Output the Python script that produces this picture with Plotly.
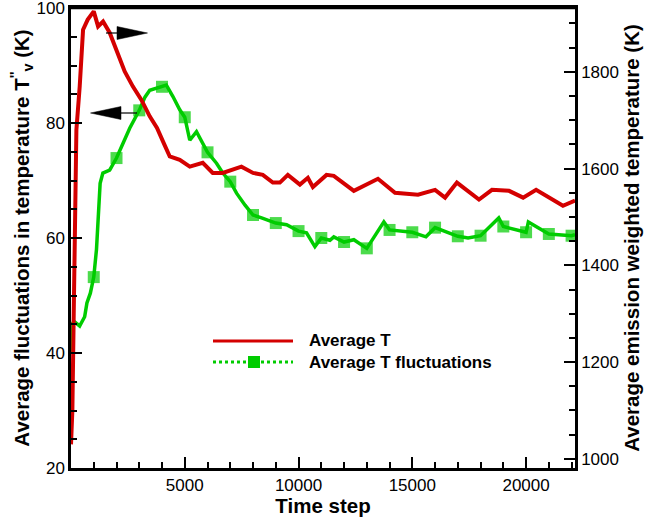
import plotly.graph_objects as go

# Average emission weighted temperature (right axis, K)
red_t = [0, 60, 120, 180, 237, 383, 530, 735, 1000, 1190, 1410, 1700, 2000, 2360,
         2715, 3095, 3460, 3780, 4100, 4340, 4780, 5220, 5790, 6230, 6670, 7110,
         7490, 8000, 8430, 8870, 9180, 9530, 10060, 10410, 10630, 11230, 11550,
         12430, 13490, 14240, 15250, 16000, 16440, 16960, 17930, 18500, 19250,
         19870, 20440, 21620, 22150]
red_v = [1030, 1100, 1300, 1500, 1680, 1770, 1887, 1908, 1925, 1894, 1904, 1881,
         1846, 1801, 1770, 1742, 1708, 1684, 1650, 1625, 1618, 1604, 1612, 1591,
         1591, 1598, 1604, 1591, 1587, 1571, 1571, 1587, 1567, 1581, 1562, 1587,
         1585, 1554, 1579, 1550, 1546, 1556, 1540, 1571, 1536, 1556, 1554, 1540,
         1556, 1523, 1534]

# Average fluctuations in temperature (left axis, K)
green_t = [0, 80, 160, 380, 600, 700, 850, 1000, 1120, 1200, 1280, 1400, 1700,
           2000, 2300, 2580, 3000, 3250, 3460, 3900, 4000, 4190, 4480, 4780, 5000,
           5220, 5515, 5790, 6000, 6395, 6670, 7000, 7275, 7650, 8000, 8375, 9000,
           9475, 10000, 10350, 10720, 11000, 11380, 11550, 12000, 12430, 13000,
           13750, 14000, 15000, 15600, 16000, 17000, 17450, 18000, 18800, 19000,
           20000, 20100, 21000, 22000, 22150]
green_v = [40.0, 45.2, 45.4, 44.7, 46.3, 48.7, 50.4, 53.2, 58.0, 64.0, 69.5, 71.3,
           71.8, 73.9, 76.5, 79.1, 82.2, 84.5, 85.7, 86.3, 86.3, 86.6, 84.6, 82.3,
           81.0, 77.0, 78.5, 76.5, 74.9, 73.0, 71.3, 69.8, 67.8, 65.7, 64.0, 63.5,
           62.6, 62.3, 61.2, 60.9, 58.5, 60.0, 59.6, 60.2, 59.3, 59.7, 58.2, 62.8,
           61.4, 61.0, 60.2, 61.8, 60.3, 60.0, 60.4, 63.5, 62.0, 61.0, 62.8, 60.7,
           60.4, 60.6]

x_ticks = [5000, 10000, 15000, 20000]
left_ticks = [20, 40, 60, 80, 100]
right_ticks = [1000, 1200, 1400, 1600, 1800]

RED = "#d40000"
GREEN = "#00cc00"
FONT = "Liberation Sans, Arial, sans-serif"

marker_sizes = [12 if (t > 0 and t % 1000 == 0) else 0 for t in green_t]

fig = go.Figure()
fig.add_trace(go.Scatter(x=green_t, y=green_v, mode="lines+markers", yaxis="y",
                         name="Average T fluctuations",
                         line=dict(color=GREEN, width=3.5),
                         marker=dict(symbol="square", size=marker_sizes, color=GREEN,
                                     line=dict(width=0))))
fig.add_trace(go.Scatter(x=red_t, y=red_v, mode="lines", yaxis="y2",
                         name="Average T", line=dict(color=RED, width=4)))

L, R, T, B = 71, 72, 8, 49
W, H = 647, 517
PW, PH = W - L - R, H - T - B


def px(x):
    return (x - L) / PW


def py(y):
    return (H - B - y) / PH


shapes = []
# top frame line
shapes.append(dict(type="line", xref="paper", yref="paper", x0=0, x1=1, y0=1, y1=1,
                   line=dict(color="black", width=2.5)))
# arrows
shapes.append(dict(type="line", xref="paper", yref="paper", x0=px(106), x1=px(118),
                   y0=py(33), y1=py(33), line=dict(color="black", width=1.2)))
shapes.append(dict(type="path", xref="paper", yref="paper",
                   path=f"M {px(117)} {py(26.5)} L {px(147.5)} {py(33)} L {px(117)} {py(39.5)} Z",
                   fillcolor="black", line=dict(color="black", width=0.5)))
shapes.append(dict(type="line", xref="paper", yref="paper", x0=px(120), x1=px(137),
                   y0=py(113), y1=py(113), line=dict(color="black", width=1.2)))
shapes.append(dict(type="path", xref="paper", yref="paper",
                   path=f"M {px(121)} {py(106.5)} L {px(90.5)} {py(113)} L {px(121)} {py(119.5)} Z",
                   fillcolor="black", line=dict(color="black", width=0.5)))
# manual legend
shapes.append(dict(type="line", xref="paper", yref="paper", x0=px(213), x1=px(293),
                   y0=py(341), y1=py(341), line=dict(color=RED, width=3)))
shapes.append(dict(type="line", xref="paper", yref="paper", x0=px(213), x1=px(293),
                   y0=py(362), y1=py(362), line=dict(color=GREEN, width=3, dash="dot")))
shapes.append(dict(type="rect", xref="paper", yref="paper", xsizemode="pixel",
                   ysizemode="pixel", xanchor=px(254), yanchor=py(362),
                   x0=-6, x1=6, y0=-6, y1=6, fillcolor=GREEN, line=dict(width=0)))

annotations = [
    dict(text="<b>Average T</b>", xref="paper", yref="paper", x=px(307), y=py(341),
         xanchor="left", yanchor="middle", showarrow=False,
         font=dict(size=17, family=FONT, color="black")),
    dict(text="<b>Average T fluctuations</b>", xref="paper", yref="paper", x=px(307),
         y=py(362), xanchor="left", yanchor="middle", showarrow=False,
         font=dict(size=17, family=FONT, color="black")),
]

axis_common = dict(showgrid=False, zeroline=False, showline=True, linecolor="black",
                   linewidth=2.5, ticks="inside", ticklen=11, tickwidth=2,
                   tickcolor="black", automargin=False, ticklabeloverflow="allow",
                   tickfont=dict(size=17, family=FONT, color="black"))

fig.update_layout(
    width=W, height=H,
    margin=dict(l=L, r=R, t=T, b=B, pad=0),
    plot_bgcolor="white", paper_bgcolor="white",
    showlegend=False,
    font=dict(family=FONT, size=17, color="black"),
    shapes=shapes, annotations=annotations,
    xaxis=dict(range=[0, 22150], tickmode="array", tickvals=x_ticks,
               ticktext=[str(v) for v in x_ticks], mirror=True,
               minor=dict(tickmode="linear", tick0=0, dtick=1000, ticks="inside",
                          ticklen=6, tickwidth=1.5, tickcolor="black", showgrid=False),
               title=dict(text="<b>Time step</b>", font=dict(size=20.5, family=FONT),
                          standoff=2),
               **axis_common),
    yaxis=dict(range=[20, 100], tickmode="array", tickvals=left_ticks,
               minor=dict(tickmode="linear", tick0=20, dtick=5, ticks="inside",
                          ticklen=6, tickwidth=1.5, tickcolor="black", showgrid=False),
               title=dict(text="<b>Average fluctuations in temperature T<sup>''</sup><sub>v</sub> (K)</b>",
                          font=dict(size=20.5, family=FONT), standoff=2),
               **axis_common),
    yaxis2=dict(range=[981, 1932], overlaying="y", side="right", tickmode="array",
                tickvals=right_ticks,
                minor=dict(tickmode="linear", tick0=1000, dtick=50, ticks="inside",
                           ticklen=6, tickwidth=1.5, tickcolor="black", showgrid=False),
                title=dict(text="<b>Average emission weighted temperature (K)</b>",
                           font=dict(size=20.5, family=FONT), standoff=7),
                **axis_common),
)

fig.write_html("out.html", config={"displayModeBar": False},
               post_script="document.body.style.margin='0';")
